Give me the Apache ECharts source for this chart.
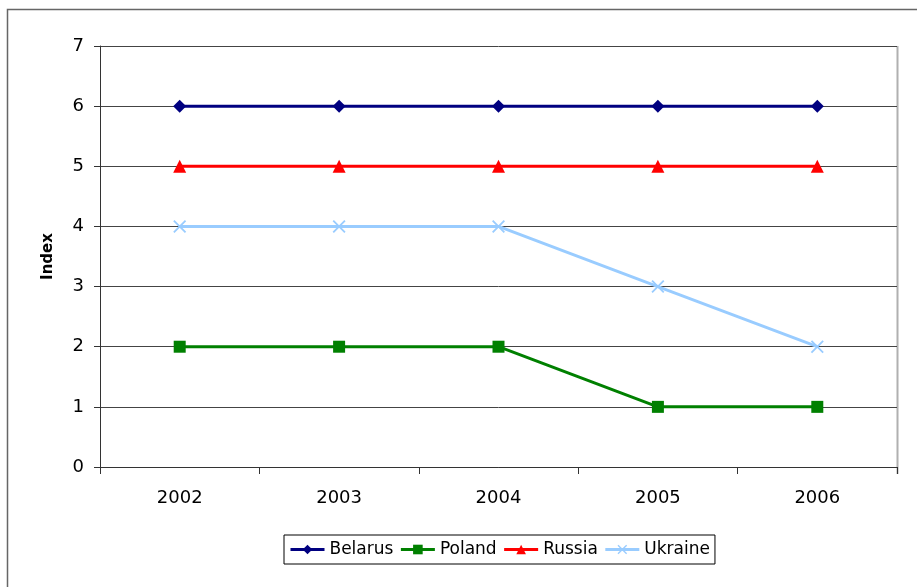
<!DOCTYPE html>
<html>
<head>
<meta charset="utf-8">
<script src="https://cdn.jsdelivr.net/npm/echarts@6/dist/echarts.min.js"></script>
<style>
  html, body { margin: 0; padding: 0; background: #fff; }
  #chart { width: 917px; height: 587px; }
</style>
</head>
<body>
<div id="chart"></div>
<script>
// data
var years = ['2002', '2003', '2004', '2005', '2006'];
var belarus = [6, 6, 6, 6, 6];
var poland = [2, 2, 2, 1, 1];
var russia = [5, 5, 5, 5, 5];
var ukraine = [4, 4, 4, 3, 2];

var font = '"DejaVu Sans", sans-serif';
var crossPath = 'path://M0,1L1,0L5,4L9,0L10,1L6,5L10,9L9,10L5,6L1,10L0,9L4,5Z';

var myChart = echarts.init(document.getElementById('chart'));

function line(name, data, color, symbol, size) {
  return {
    name: name,
    type: 'line',
    data: data,
    symbol: symbol,
    symbolSize: size,
    showAllSymbol: true,
    lineStyle: { color: color, width: 3 },
    itemStyle: { color: color },
    emphasis: { disabled: true },
    animation: false
  };
}

var option = {
  backgroundColor: '#fff',
  animation: false,
  textStyle: { fontFamily: font },
  graphic: [{
    type: 'rect',
    shape: { x: 7.5, y: 9.5, width: 940, height: 600 },
    style: { fill: 'none', stroke: '#666', lineWidth: 1.5 },
    z: -1
  }, {
    type: 'line',
    shape: { x1: 897.5, y1: 46, x2: 897.5, y2: 474 },
    style: { stroke: '#b0b0b0', lineWidth: 2 }
  }],
  grid: { left: 100, right: 20, top: 46, bottom: 120, containLabel: false },
  legend: {
    bottom: 23,
    left: 284,
    padding: [6, 5, 6, 5],
    borderColor: '#000',
    borderWidth: 1,
    itemGap: 6,
    itemWidth: 34,
    itemHeight: 12,
    lineStyle: { width: 3 },
    textStyle: { fontSize: 17, color: '#000', fontFamily: font },
    data: ['Belarus', 'Poland', 'Russia', 'Ukraine']
  },
  xAxis: {
    type: 'category',
    data: years,
    boundaryGap: true,
    axisLine: { lineStyle: { color: '#333', width: 1 } },
    axisTick: { show: true, length: 7, inside: false, lineStyle: { color: '#333' } },
    axisLabel: { color: '#000', fontSize: 18, margin: 22 },
    splitLine: { show: false }
  },
  yAxis: {
    type: 'value',
    min: 0,
    max: 7,
    interval: 1,
    name: 'Index',
    nameLocation: 'middle',
    nameRotate: 90,
    nameGap: 44,
    nameTextStyle: { fontSize: 15, fontWeight: 'bold', color: '#000' },
    axisLine: { show: true, lineStyle: { color: '#333', width: 1 } },
    axisTick: { show: true, length: 6, lineStyle: { color: '#333' } },
    axisLabel: { color: '#000', fontSize: 18, margin: 16 },
    splitLine: { show: true, lineStyle: { color: '#444', width: 1 } }
  },
  series: [
    line('Belarus', belarus, '#000080', 'diamond', 13),
    line('Poland', poland, '#008000', 'rect', 12),
    line('Russia', russia, '#ff0000', 'triangle', 13),
    line('Ukraine', ukraine, '#99ccff', crossPath, 13)
  ]
};

myChart.setOption(option);
</script>
</body>
</html>
